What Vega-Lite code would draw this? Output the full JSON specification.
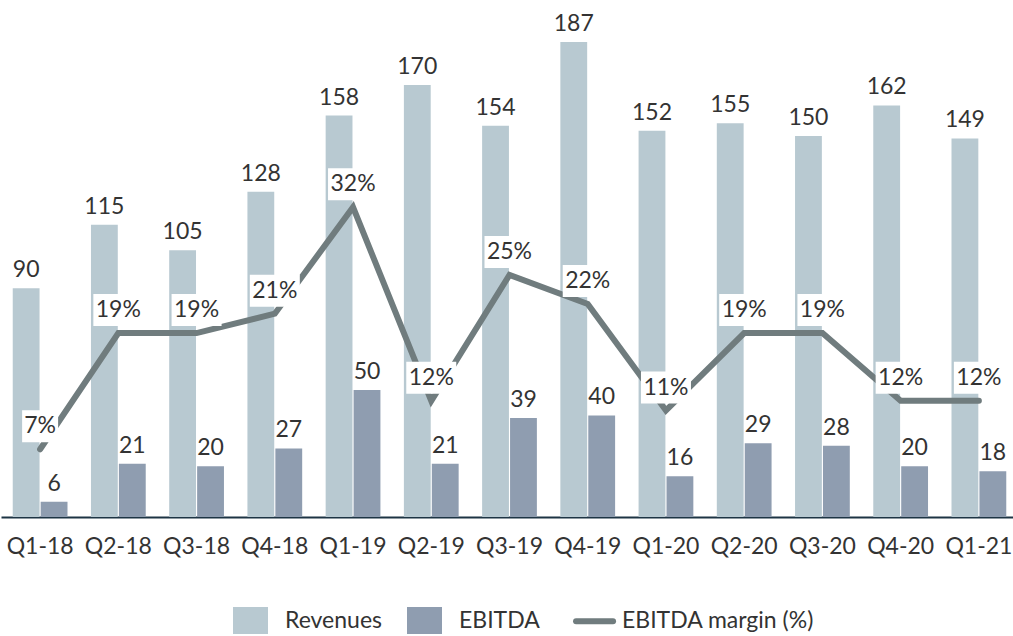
{
  "$schema": "https://vega.github.io/schema/vega-lite/v6.json",
  "width": 1017,
  "height": 517,
  "autosize": {"type": "none"},
  "padding": {"left": 1, "top": 0, "right": 0, "bottom": 119},
  "background": "white",
  "config": {"view": {"stroke": null}, "font": "Lato"},
  "datasets": {
    "bars": [
      {"q": "Q1-18", "series": "Revenues", "value": 90},
      {"q": "Q1-18", "series": "EBITDA", "value": 6},
      {"q": "Q2-18", "series": "Revenues", "value": 115},
      {"q": "Q2-18", "series": "EBITDA", "value": 21},
      {"q": "Q3-18", "series": "Revenues", "value": 105},
      {"q": "Q3-18", "series": "EBITDA", "value": 20},
      {"q": "Q4-18", "series": "Revenues", "value": 128},
      {"q": "Q4-18", "series": "EBITDA", "value": 27},
      {"q": "Q1-19", "series": "Revenues", "value": 158},
      {"q": "Q1-19", "series": "EBITDA", "value": 50},
      {"q": "Q2-19", "series": "Revenues", "value": 170},
      {"q": "Q2-19", "series": "EBITDA", "value": 21},
      {"q": "Q3-19", "series": "Revenues", "value": 154},
      {"q": "Q3-19", "series": "EBITDA", "value": 39},
      {"q": "Q4-19", "series": "Revenues", "value": 187},
      {"q": "Q4-19", "series": "EBITDA", "value": 40},
      {"q": "Q1-20", "series": "Revenues", "value": 152},
      {"q": "Q1-20", "series": "EBITDA", "value": 16},
      {"q": "Q2-20", "series": "Revenues", "value": 155},
      {"q": "Q2-20", "series": "EBITDA", "value": 29},
      {"q": "Q3-20", "series": "Revenues", "value": 150},
      {"q": "Q3-20", "series": "EBITDA", "value": 28},
      {"q": "Q4-20", "series": "Revenues", "value": 162},
      {"q": "Q4-20", "series": "EBITDA", "value": 20},
      {"q": "Q1-21", "series": "Revenues", "value": 149},
      {"q": "Q1-21", "series": "EBITDA", "value": 18}
    ],
    "margin": [
      {"q": "Q1-18", "margin": 0.07},
      {"q": "Q2-18", "margin": 0.19},
      {"q": "Q3-18", "margin": 0.19},
      {"q": "Q4-18", "margin": 0.21},
      {"q": "Q1-19", "margin": 0.32},
      {"q": "Q2-19", "margin": 0.12},
      {"q": "Q3-19", "margin": 0.25},
      {"q": "Q4-19", "margin": 0.22},
      {"q": "Q1-20", "margin": 0.11},
      {"q": "Q2-20", "margin": 0.19},
      {"q": "Q3-20", "margin": 0.19},
      {"q": "Q4-20", "margin": 0.12},
      {"q": "Q1-21", "margin": 0.12}
    ]
  },
  "encoding": {
    "x": {
      "field": "q",
      "type": "nominal",
      "sort": null,
      "scale": {"paddingInner": 0.3, "paddingOuter": 0.15},
      "axis": {
        "title": null,
        "labelAngle": 0,
        "labelFontSize": 23,
        "labelColor": "#333333",
        "labelPadding": 18,
        "ticks": false,
        "domainColor": "#1d3444",
        "domainWidth": 2
      }
    }
  },
  "layer": [
    {
      "data": {"name": "bars"},
      "encoding": {
        "xOffset": {
          "field": "series",
          "type": "nominal",
          "sort": ["Revenues", "EBITDA"],
          "scale": {"paddingInner": 0.04}
        },
        "y": {
          "field": "value",
          "type": "quantitative",
          "scale": {"domain": [0, 203.5], "nice": false},
          "axis": null
        }
      },
      "layer": [
        {
          "mark": {"type": "bar"},
          "encoding": {
            "color": {
              "field": "series",
              "type": "nominal",
              "scale": {
                "domain": ["Revenues", "EBITDA", "EBITDA margin (%)"],
                "range": ["#b8c9d1", "#8f9db0", "#707c7e"]
              },
              "legend": {
                "orient": "none",
                "legendX": 238,
                "legendY": 609,
                "padding": 0,
                "direction": "horizontal",
                "title": null,
                "labelFontSize": 23,
                "labelColor": "#333333",
                "labelLimit": 400,
                "symbolSize": 1225,
                "columnPadding": 24,
                "labelOffset": 23,
                "encode": {
                  "symbols": {
                    "update": {
                      "shape": {"signal": "datum.value === 'EBITDA margin (%)' ? 'M-1.7,0H0.3' : 'M-1,-0.77H1V0.77H-1Z'"},
                      "size": {"signal": "datum.value === 'EBITDA margin (%)' ? 1369 : 1225"},
                      "fill": {"signal": "datum.value === 'EBITDA margin (%)' ? 'transparent' : scale('color', datum.value)"},
                      "stroke": {"signal": "scale('color', datum.value)"},
                      "strokeWidth": {"signal": "datum.value === 'EBITDA margin (%)' ? 6 : 0"},
                      "strokeCap": {"value": "round"},
                      "opacity": {"value": 1},
                      "fillOpacity": {"value": 1}
                    }
                  },
                  "labels": {
                    "update": {
                      "dx": {"signal": "datum.value === 'EBITDA margin (%)' ? -20 : 0"}
                    }
                  }
                }
              }
            }
          }
        },
        {
          "mark": {"type": "text", "baseline": "alphabetic", "dy": -11, "fontSize": 23, "color": "#333333"},
          "encoding": {"text": {"field": "value", "type": "quantitative"}}
        }
      ]
    },
    {
      "data": {"name": "margin"},
      "encoding": {
        "y": {
          "field": "margin",
          "type": "quantitative",
          "scale": {"domain": [0, 0.534], "nice": false},
          "axis": null
        }
      },
      "layer": [
        {
          "mark": {"type": "line", "strokeWidth": 6, "strokeCap": "round"},
          "encoding": {"color": {"datum": "EBITDA margin (%)"}}
        },
        {
          "mark": {"type": "point", "filled": true, "fill": "white", "opacity": 1, "strokeWidth": 0, "yOffset": -23},
          "encoding": {
            "shape": {
              "condition": {"test": "datum.margin < 0.1", "value": "M-1,-0.89H1V0.89H-1Z"},
              "value": "M-1,-0.64H1V0.64H-1Z"
            },
            "size": {
              "condition": {"test": "datum.margin < 0.1", "value": 1296},
              "value": 2500
            }
          }
        },
        {
          "mark": {"type": "text", "baseline": "middle", "dy": -23, "fontSize": 23, "color": "#333333"},
          "encoding": {"text": {"field": "margin", "type": "quantitative", "format": ".0%"}}
        }
      ]
    }
  ],
  "resolve": {"scale": {"y": "independent"}}
}
